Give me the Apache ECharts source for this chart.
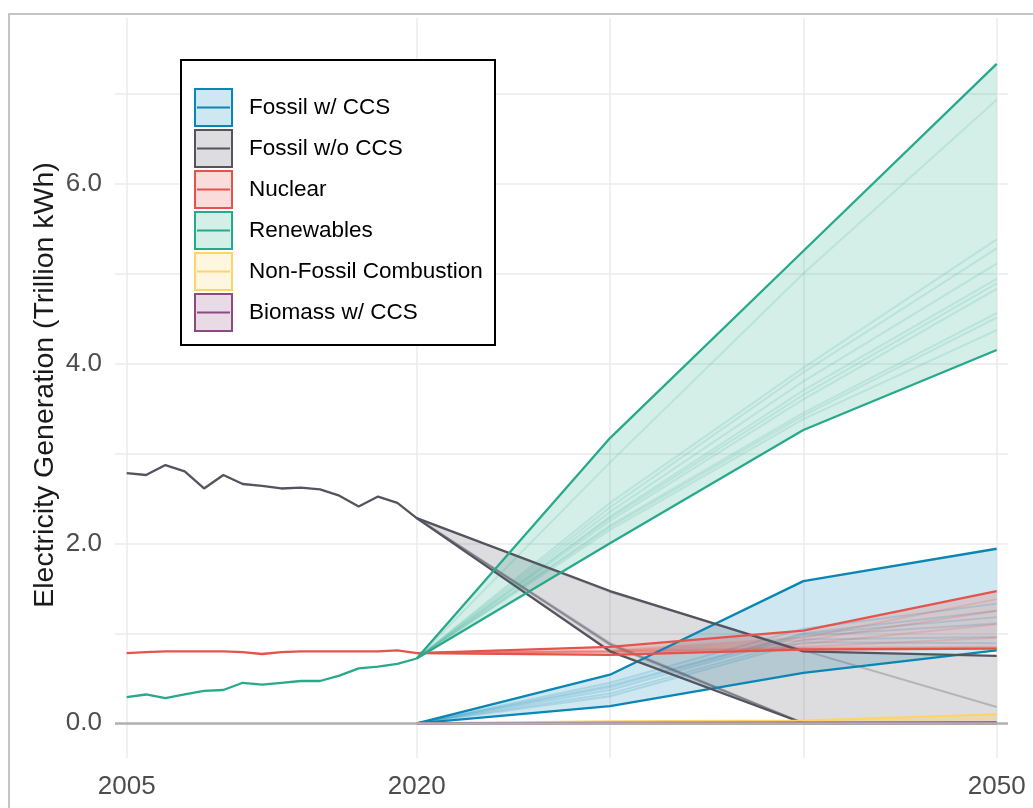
<!DOCTYPE html>
<html><head><meta charset="utf-8">
<script src="https://cdn.jsdelivr.net/npm/echarts@6/dist/echarts.min.js"></script>
<style>html,body{margin:0;padding:0;background:#fff}#c{width:1033px;height:808px}</style>
</head><body><div id="c"></div>
<script>
// ---------- data ----------
const techNames = ['Fossil w/ CCS','Fossil w/o CCS','Nuclear','Renewables','Non-Fossil Combustion','Biomass w/ CCS'];
const techColors = ['#0a86b4','#54545f','#e6534d','#27a98b','#fdd465','#8c4a83'];

const histYears = [2005,2006,2007,2008,2009,2010,2011,2012,2013,2014,2015,2016,2017,2018,2019,2020];
const histFossilNoCCS = [2.78,2.76,2.87,2.80,2.61,2.76,2.66,2.64,2.61,2.62,2.60,2.53,2.41,2.52,2.45,2.28];
const histNuclear     = [0.78,0.79,0.80,0.80,0.80,0.80,0.79,0.77,0.79,0.80,0.80,0.80,0.80,0.80,0.81,0.78];
const histRenewables  = [0.29,0.32,0.28,0.32,0.36,0.37,0.45,0.43,0.45,0.47,0.47,0.53,0.61,0.63,0.66,0.72];

const projYears = [2020,2030,2040,2050];
// envelope (low / high) per technology
const loFossilCCS   = [0,0.19,0.56,0.81];
const hiFossilCCS   = [0,0.54,1.58,1.94];
const loFossilNoCCS = [2.28,0.80,0.00,0.00];
const hiFossilNoCCS = [2.28,1.47,0.80,0.75];
const loNuclear     = [0.78,0.76,0.82,0.83];
const hiNuclear     = [0.78,0.85,1.03,1.47];
const loRenewables  = [0.72,2.00,3.26,4.15];
const hiRenewables  = [0.72,3.17,5.25,7.33];
const loNonFossil   = [0,0,0,0];
const hiNonFossil   = [0,0.02,0.03,0.10];
const loBiomass     = [0,0,0,0];
const hiBiomass     = [0,0.004,0.006,0.01];

// individual scenarios (faint lines)
const scenFossilCCS = [
  [0,0.45,1.05,1.33],[0,0.42,1.00,1.25],[0,0.40,0.99,1.18],[0,0.37,0.97,1.11],
  [0,0.33,0.93,0.96],[0,0.30,0.90,0.89]
];
const scenFossilNoCCS = [
  [2.28,0.89,0.00,0.00],[2.28,0.88,0.00,0.00],[2.28,0.87,0.00,0.00],
  [2.28,1.46,0.81,0.18]
];
const scenNuclear = [
  [0.78,0.80,0.84,0.85],[0.78,0.79,0.83,0.84],[0.78,0.81,0.95,1.38],
  [0.78,0.80,0.92,1.25],[0.78,0.80,0.88,1.10],[0.78,0.79,0.85,0.95]
];
const scenRenewables = [
  [0.72,2.90,5.00,6.93],[0.72,2.45,3.95,5.38],[0.72,2.40,3.90,5.28],[0.72,2.35,3.80,5.11],
  [0.72,2.30,3.70,4.94],[0.72,2.28,3.65,4.89],[0.72,2.25,3.60,4.83],[0.72,2.20,3.45,4.56],
  [0.72,2.18,3.42,4.51],[0.72,2.15,3.38,4.37]
];
const scenNonFossil = [[0,0.01,0.02,0.05]];
const scenBiomass = [[0,0.002,0.004,0.006]];

const xTickValues = [2005,2020,2030,2040,2050];
const xLabelValues = [2005,2020,2050];
const yTickValues = [0,1,2,3,4,5,6,7];
const yLabelValues = [0,2,4,6];

// ---------- chart ----------
const FONT = '"Liberation Sans", Arial, Helvetica, sans-serif';
const lows  = [loFossilCCS, loFossilNoCCS, loNuclear, loRenewables, loNonFossil, loBiomass];
const highs = [hiFossilCCS, hiFossilNoCCS, hiNuclear, hiRenewables, hiNonFossil, hiBiomass];
const scens = [scenFossilCCS, scenFossilNoCCS, scenNuclear, scenRenewables, scenNonFossil, scenBiomass];
const hist = [null, histFossilNoCCS, histNuclear, histRenewables, null, null];
const faintOpacity = [0.18, 0.3, 0.2, 0.15, 0.3, 0.3];

const pairs = (xs, ys) => xs.map((x, i) => [x, ys[i]]);
const fade = (c, a) => echarts.color.modifyAlpha(c, a);

const series = [];
// zero line
series.push({
  type: 'line', data: [], silent: true,
  markLine: { silent: true, symbol: 'none', label: { show: false },
    lineStyle: { color: '#b0b0b0', width: 2.5, type: 'solid' }, data: [{ yAxis: 0 }] }
});
// bands
techNames.forEach((n, k) => {
  const lo = lows[k], hi = highs[k];
  series.push({
    type: 'custom', silent: true, z: 2,
    data: [[projYears[0], lo[0]]],
    renderItem: (params, api) => {
      const pts = [];
      projYears.forEach((x, i) => pts.push(api.coord([x, hi[i]])));
      for (let i = projYears.length - 1; i >= 0; i--) pts.push(api.coord([projYears[i], lo[i]]));
      return { type: 'polygon', shape: { points: pts }, style: { fill: fade(techColors[k], 0.2), stroke: null } };
    }
  });
});
// faint scenario lines
techNames.forEach((n, k) => {
  scens[k].forEach(s => {
    series.push({ type: 'line', silent: true, symbol: 'none', z: 3,
      data: pairs(projYears, s),
      lineStyle: { color: techColors[k], width: 2, opacity: faintOpacity[k] } });
  });
});
// solid lines
techNames.forEach((n, k) => {
  if (hist[k]) series.push({ type: 'line', silent: true, symbol: 'none', z: 4,
    data: pairs(histYears, hist[k]), lineStyle: { color: techColors[k], width: 2.3 } });
  [lows[k], highs[k]].forEach(arr => series.push({ type: 'line', silent: true, symbol: 'none', z: 4,
    data: pairs(projYears, arr), lineStyle: { color: techColors[k], width: 2.3 } }));
});

// legend graphics
const LZ = 100;
const legendChildren = [{
  type: 'rect', z: LZ, shape: { x: 181, y: 60, width: 314, height: 285 },
  style: { fill: '#fff', stroke: '#000', lineWidth: 2 }
}];
techNames.forEach((n, k) => {
  const top = 89 + 41 * k;
  legendChildren.push({ type: 'rect', z: LZ + 1, shape: { x: 195, y: top, width: 37, height: 37 },
    style: { fill: fade(techColors[k], 0.2), stroke: techColors[k], lineWidth: 2 } });
  legendChildren.push({ type: 'line', z: LZ + 2, shape: { x1: 197, y1: top + 18.5, x2: 230, y2: top + 18.5 },
    style: { stroke: techColors[k], lineWidth: 2 } });
  legendChildren.push({ type: 'text', z: LZ + 2, x: 249, y: top + 19,
    style: { text: n, font: '22.5px ' + FONT, fill: '#000', textVerticalAlign: 'middle' } });
});

const option = {
  backgroundColor: '#fff',
  animation: false,
  grid: { left: 115, right: 25, top: 18, bottom: 50, containLabel: false },
  xAxis: {
    type: 'value', min: 2004.395, max: 2050.585,
    axisLine: { show: false, onZero: false },
    axisTick: { show: false, customValues: xTickValues },
    axisLabel: { customValues: xLabelValues, fontSize: 26, color: '#4d4d4d', margin: 16, fontFamily: FONT,
      formatter: v => String(v) },
    splitLine: { show: true, lineStyle: { color: '#ebebeb', width: 1.5 } }
  },
  yAxis: {
    type: 'value', min: -0.386, max: 7.84,
    axisLine: { show: false },
    axisTick: { show: false, customValues: yTickValues },
    axisLabel: { customValues: yLabelValues, fontSize: 26, color: '#4d4d4d', margin: 13, fontFamily: FONT,
      formatter: v => v.toFixed(1) },
    splitLine: { show: true, lineStyle: { color: '#ebebeb', width: 1.5 } }
  },
  series: series,
  graphic: [
    { type: 'rect', silent: true, z: 0, shape: { x: 9, y: 14, width: 1200, height: 1000 },
      style: { fill: null, stroke: '#b3b3b3', lineWidth: 1.5 } },
    { type: 'text', z: 50, x: 45, y: 385, rotation: Math.PI / 2,
      style: { text: 'Electricity Generation (Trillion kWh)', font: '28.5px ' + FONT, fill: '#1a1a1a',
        textAlign: 'center', textVerticalAlign: 'middle' } }
  ].concat(legendChildren)
};

const chart = echarts.init(document.getElementById('c'), null, { renderer: 'canvas' });
chart.setOption(option);
</script>
</body></html>
